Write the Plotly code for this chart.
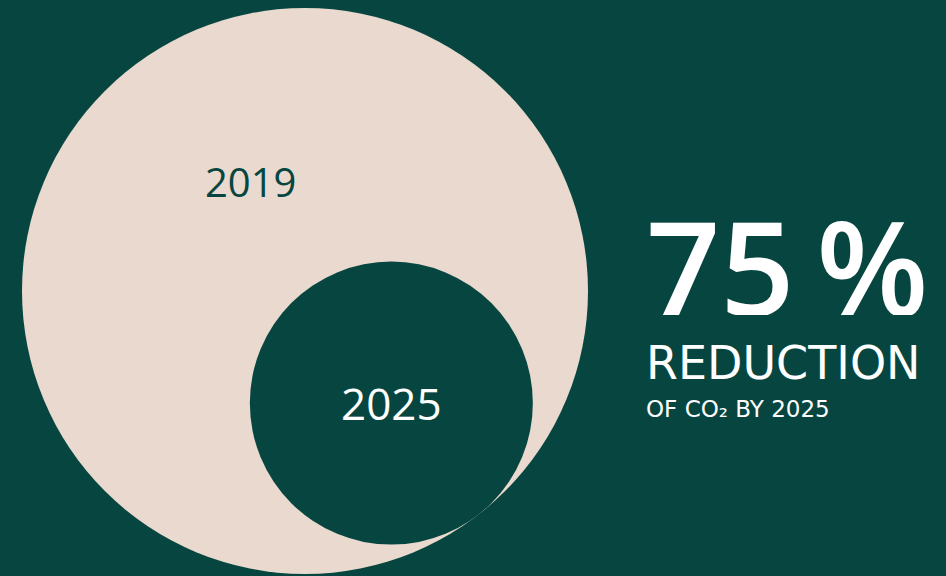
import math
import plotly.graph_objects as go

# ---- data ----
years = ["2019", "2025"]
emissions_index = [100, 25]          # CO2 emissions, 2019 = 100
headline_unit = "%"
headline_label = "REDUCTION"
headline_sub = "OF CO₂ BY 2025"

BG = "#074640"
BEIGE = "#E9D9CE"
FONT = "Open Sans"
FONT2 = "DejaVu Sans"

W, H = 946, 576
reduction = round((1 - emissions_index[1] / emissions_index[0]) * 100)

# circle geometry (area proportional to emissions)
big_cx, big_cy, big_r = 305, 291, 283
small_r = big_r * math.sqrt(emissions_index[1] / emissions_index[0])
theta = math.radians(52.4)
small_cx = big_cx + (big_r - small_r) * math.cos(theta)
small_cy = big_cy + (big_r - small_r) * math.sin(theta)

fig = go.Figure()
fig.add_trace(go.Scatter(x=[0, W], y=[0, H], mode="markers",
                         marker=dict(opacity=0), hoverinfo="skip", showlegend=False))

fig.add_shape(type="circle", xref="x", yref="y",
              x0=big_cx - big_r, x1=big_cx + big_r, y0=big_cy - big_r, y1=big_cy + big_r,
              fillcolor=BEIGE, line=dict(width=0), layer="below")
fig.add_shape(type="circle", xref="x", yref="y",
              x0=small_cx - small_r, x1=small_cx + small_r,
              y0=small_cy - small_r, y1=small_cy + small_r,
              fillcolor=BG, line=dict(width=0), layer="below")

fig.add_annotation(x=250, y=181, text=years[0], showarrow=False,
                   font=dict(family=FONT, size=40, color=BG),
                   xanchor="center", yanchor="middle")
fig.add_annotation(x=small_cx, y=small_cy, text=years[1], showarrow=False,
                   font=dict(family=FONT, size=44, color="white"),
                   xanchor="center", yanchor="middle")

fig.add_annotation(x=644, y=265, text=f"{reduction}\u2009{headline_unit}", showarrow=False,
                   font=dict(family=FONT, size=130, color="white", weight=600),
                   xanchor="left", yanchor="middle", height=100, valign="middle")
fig.add_annotation(x=644, y=363, text=headline_label, showarrow=False,
                   font=dict(family=FONT2, size=46, color="white"),
                   xanchor="left", yanchor="middle")
fig.add_annotation(x=644, y=409, text=headline_sub, showarrow=False,
                   font=dict(family=FONT2, size=23, color="white"),
                   xanchor="left", yanchor="middle")

fig.update_layout(
    width=W, height=H,
    margin=dict(l=0, r=0, t=0, b=0),
    paper_bgcolor=BG, plot_bgcolor=BG,
    xaxis=dict(range=[0, W], visible=False, fixedrange=True),
    yaxis=dict(range=[H, 0], visible=False, fixedrange=True),
    showlegend=False,
)

fig.write_html("out.html")
